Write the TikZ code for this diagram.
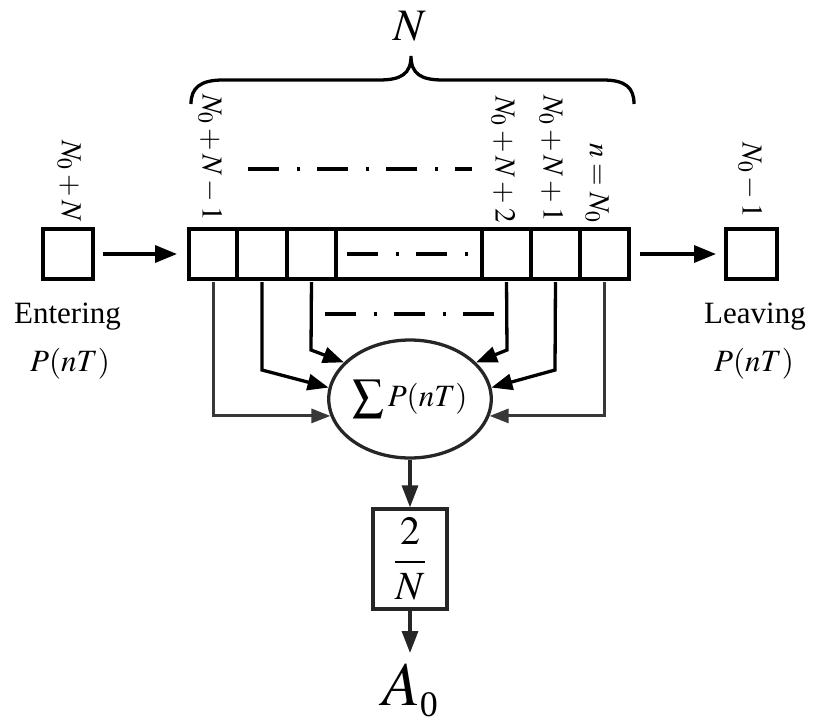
\documentclass[tikz,border=0pt]{standalone}
\usepackage{mathptmx}
\usepackage{fontspec}
\setmainfont{Liberation Serif}
\usetikzlibrary{arrows.meta,shapes.geometric}

\begin{document}
\begin{tikzpicture}[x=1pt,y=-1pt,
  cell/.style={draw, line width=3.5pt, minimum height=50pt, inner sep=0pt, outer sep=0pt},
  arr/.style={line width=3.4pt, -{Triangle[length=22pt,width=17pt]}},
  feed/.style={line width=3.3pt, -{Triangle[length=21pt,width=16pt]}},
  sidefeed/.style={line width=3pt, draw=black!78, -{Triangle[length=19pt,width=14pt,fill=black!78]}},
  vfeed/.style={line width=3.3pt, draw=black!85, -{Triangle[length=22pt,width=16pt,fill=black!85]}},
  dashdot/.style={line width=4.2pt, dash pattern=on 31pt off 17.5pt on 3pt off 17.5pt},
  idx/.style={rotate=-90, anchor=east, inner sep=0pt, font=\fontsize{29}{33}\selectfont},
  lbl/.style={font=\fontsize{31}{36}\selectfont, inner sep=0pt, anchor=base},
]
\useasboundingbox (0,0) rectangle (813,726);

% brace over the window and its length
\draw[line width=3.3pt]
  (191,104) .. controls (191,88) and (200,80) .. (223,80) -- (379,80)
  .. controls (401,80) and (411,74) .. (411,56)
  .. controls (411,74) and (421,80) .. (443,80) -- (603,80)
  .. controls (626,80) and (634,88) .. (634,104);
\node[inner sep=0pt, anchor=base, font=\fontsize{45}{54}\selectfont] (bigN) at (410,40) {$N$};

% sample entering and leaving the window
\node[cell, minimum width=50pt] (enter) at (68,254) {};
\node[cell, minimum width=51pt] (leave) at (751.5,254) {};

% the sliding window
\node[cell, minimum width=48pt]  (c1) at (213,254) {};
\node[cell, minimum width=50pt]  (c2) at (262,254) {};
\node[cell, minimum width=49pt]  (c3) at (311.5,254) {};
\node[cell, minimum width=146pt] (c4) at (409,254) {};
\node[cell, minimum width=49pt]  (c5) at (506.5,254) {};
\node[cell, minimum width=49pt]  (c6) at (555.5,254) {};
\node[cell, minimum width=49pt]  (c7) at (604.5,254) {};

\draw[dashdot] (347,254) -- (468,254);
\draw[dashdot] (248,169) -- (472,169);
\draw[dashdot] (325,314) -- (495,314);

% sample indices
\node[idx] (i0) at (69,222)  {$N_0+N$};
\node[idx] (i1) at (210,221) {$N_0+N-1$};
\node[idx] (i5) at (503,223) {$N_0+N+2$};
\node[idx] (i6) at (551,222) {$N_0+N+1$};
\node[idx] (i7) at (597,223) {$n=N_0$};
\node[idx] (i8) at (750,218) {$N_0-1$};

\draw[arr, shorten <=10pt, shorten >=12pt] (enter.east) -- (c1.west);
\draw[arr, shorten <=11pt, shorten >=10pt] (c7.east) -- (leave.west);

\node[lbl] (ent) at (67.5,323) {Entering};
\node[lbl] (pin) at (70,371) {$P(nT)$};
\node[lbl] (lea) at (755,323) {Leaving};
\node[lbl] (pout) at (754,371) {$P(nT)$};

% summation
\node[draw=black!85, line width=3.3pt, ellipse, minimum width=133pt, minimum height=118pt,
      inner sep=0pt, font=\fontsize{31}{36}\selectfont] (sum) at (410,399) {$\displaystyle\sum P(nT)$};

\coordinate (k2) at (262,370);
\coordinate (k3) at (311,350);
\coordinate (k5) at (507,350);
\coordinate (k6) at (555,370);

\draw[sidefeed, shorten <=3pt] (c1.south) |- (sum.192);
\draw[feed, shorten <=3pt] (c2.south) -- (k2) -- (sum.172);
\draw[feed, shorten <=3pt] (c3.south) -- (k3) -- (sum.151);
\draw[feed, shorten <=3pt] (c5.south) -- (k5) -- (sum.29);
\draw[feed, shorten <=3pt] (c6.south) -- (k6) -- (sum.8);
\draw[sidefeed, shorten <=3pt] (c7.south) |- (sum.348);

% scaling and result
\node[draw=black!85, line width=3.3pt, minimum width=74pt, minimum height=100pt, inner sep=0pt,
      font=\fontsize{40}{48}\selectfont] (frac) at (410,559) {$\displaystyle\frac{2}{N}$};
\node[inner sep=0pt, anchor=north, font=\fontsize{62}{74}\selectfont] (A0) at (410,664)
  {$A$\lower11pt\hbox{\fontsize{36}{40}\selectfont 0}};

\draw[vfeed] (sum.south) -- (frac.north);
\draw[vfeed, shorten >=11pt] (frac.south) -- (A0.north);
\end{tikzpicture}
\end{document}
